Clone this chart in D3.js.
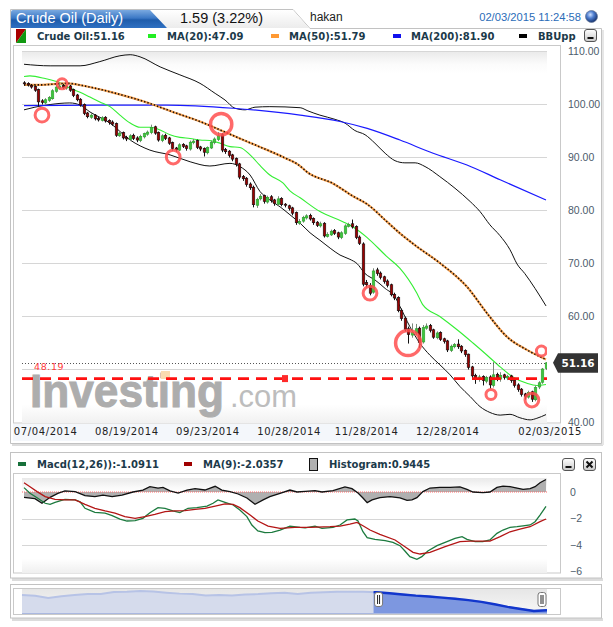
<!DOCTYPE html>
<html><head><meta charset="utf-8">
<script src="https://cdn.jsdelivr.net/npm/d3@7"></script>
<style>html,body{margin:0;padding:0;background:#fff;}svg{display:block;}</style>
</head><body><svg id="c" width="613" height="627"></svg>
<script>
// ---------------- DATA ----------------
const closes=[103.8,103.6,103.2,102.6,100.4,100.3,100.8,101.2,102.5,103.2,
103.4,103.1,103.3,102.6,101.6,100.8,99.8,98.2,97.6,97.9,
97.2,97.0,97.4,96.8,96.5,96.2,94.1,94.5,93.6,93.4,
94.0,93.5,93.2,93.9,94.4,94.7,95.6,94.5,93.2,94.0,
93.5,92.6,91.6,91.4,92.3,92.0,91.6,92.8,93.0,91.8,
91.5,90.9,91.8,92.8,93.4,94.0,91.3,91.0,90.3,89.6,
88.6,86.2,85.9,84.8,84.2,81.0,82.0,82.6,81.6,82.4,
81.8,81.2,82.1,81.0,80.9,80.3,79.4,77.6,77.8,78.6,
78.9,78.3,77.6,77.1,77.4,75.1,75.4,76.0,75.6,74.9,
75.7,77.0,77.3,76.8,74.8,73.7,66.0,65.9,64.3,68.5,
68.0,67.3,66.5,65.8,64.0,63.4,61.0,59.5,57.5,56.5,
56.9,57.6,55.0,57.8,58.1,57.3,56.0,56.8,55.6,55.2,
53.6,54.3,54.6,54.2,53.4,52.7,50.3,48.7,48.1,48.5,
47.8,48.4,47.0,48.9,48.2,48.8,48.4,48.6,47.8,46.9,
46.1,45.2,44.8,45.6,44.3,46.5,47.4,50.0,51.16];
const opens=[104.0,103.9,103.5,103.3,102.7,100.6,100.2,100.7,101.0,102.4,
103.0,103.5,103.0,103.4,102.7,101.7,100.9,99.9,98.3,97.5,
97.9,97.3,96.9,97.5,96.9,96.6,96.3,94.0,94.6,93.7,
93.3,94.1,93.6,93.1,93.8,94.3,94.6,95.7,94.6,93.1,
94.1,93.6,92.7,91.7,91.3,92.4,92.1,91.5,92.7,93.1,
91.9,91.6,90.8,91.7,92.7,93.3,94.2,91.4,91.1,90.4,
89.7,88.7,86.3,86.0,84.9,84.3,80.9,82.1,82.7,81.5,
82.5,81.9,81.1,82.2,81.1,80.8,80.4,79.5,77.5,77.9,
78.5,79.0,78.4,77.7,77.0,77.5,75.0,75.3,76.1,75.7,
74.8,75.6,76.9,77.4,76.9,74.9,73.6,66.3,65.8,64.5,
68.7,68.1,67.4,66.6,65.9,64.1,63.5,61.1,59.6,57.6,
56.4,56.8,57.7,55.1,57.7,58.2,57.4,55.9,56.9,55.7,
55.3,53.5,54.2,54.7,54.3,53.5,52.8,50.4,48.8,48.0,
48.6,47.7,48.5,46.9,49.0,48.1,48.9,48.3,48.7,47.9,
47.0,46.2,45.3,44.7,45.7,44.2,46.6,47.5,50.1];
const highs=[104.3,104.1,103.7,103.5,102.9,100.9,101.1,101.5,102.8,103.6,
103.9,103.8,103.6,103.6,102.9,101.9,101.1,100.1,98.5,98.3,
98.1,97.6,97.7,97.7,97.1,96.9,96.5,94.8,94.8,94.0,
94.3,94.4,93.9,94.2,94.6,95.0,96.1,95.9,94.8,94.3,
94.4,93.8,92.9,91.9,92.6,92.6,92.3,93.1,93.4,93.3,
92.1,91.8,92.0,93.1,93.7,94.7,94.5,91.7,91.3,90.6,
89.9,88.9,86.6,86.2,85.2,84.6,82.3,83.0,82.9,82.7,
82.8,82.1,82.6,82.4,81.3,81.0,80.6,79.7,78.3,78.9,
79.2,79.3,78.6,77.9,77.8,77.7,75.8,76.3,76.4,75.9,
76.0,77.3,77.6,78.2,77.1,75.2,73.9,66.8,66.2,69.0,
69.1,68.4,67.6,66.9,66.1,64.4,63.7,61.4,59.9,58.0,
58.6,58.5,58.0,58.3,58.6,58.5,57.6,57.1,57.1,55.9,
55.5,54.6,54.9,55.6,54.5,53.7,52.9,50.6,49.1,48.9,
48.8,48.7,48.8,51.3,49.3,49.4,49.1,48.9,48.9,48.1,
47.3,46.4,45.5,45.9,45.9,46.9,47.7,50.2,51.3];
const lows=[103.5,103.3,102.9,102.3,99.6,99.9,99.9,100.4,100.8,102.1,
102.7,102.8,102.7,102.3,101.3,100.5,99.5,97.9,97.3,97.2,
96.9,96.7,96.7,96.5,96.1,95.9,93.8,93.8,93.3,93.0,
93.0,93.2,92.8,92.8,93.5,94.0,94.3,94.2,92.9,92.8,
93.2,92.3,91.2,91.0,91.1,91.7,91.2,91.2,92.4,91.5,
91.1,90.1,90.5,91.5,92.4,93.0,90.9,90.6,89.9,89.2,
88.2,85.8,85.5,84.4,83.8,80.5,80.4,81.8,81.2,81.2,
81.4,80.8,80.8,80.7,80.5,79.9,79.0,77.2,77.2,77.6,
78.2,78.0,77.2,76.8,76.7,74.8,74.8,75.1,75.3,74.5,
74.5,75.3,76.7,76.5,74.5,73.4,65.6,65.4,63.9,64.2,
67.6,66.9,66.1,65.4,63.7,63.0,60.7,59.1,57.1,54.8,
55.9,56.4,54.0,54.8,57.4,56.9,55.7,55.6,55.3,54.8,
53.2,53.2,53.9,53.8,53.0,52.3,49.9,48.2,47.2,47.6,
46.9,47.3,46.3,46.5,47.7,47.6,48.0,47.9,47.4,46.5,
45.7,44.8,44.2,44.4,43.8,43.9,46.2,47.2,49.8];

// overlay lines: [bar index, value]
const ma20=[[0,105.2],[1.7,105.3],[6,104.8],[10.2,104],[13,103],[15.9,102.2],[18.7,101.3],[21.5,100.4],[24.4,99.5],[27.2,97.9],[30.1,96.4],[32.9,95.6],[35.7,95.6],[38.6,95.1],[41.4,94.2],[44.2,93.7],[47.1,93.5],[49.9,93.2],[52.7,93.1],[55.6,92.6],[58.4,91.95],[61.2,91.8],[64.1,90.4],[66.9,88.4],[69.7,86.6],[73.4,85.1],[75.4,83.6],[78.3,82.3],[83.9,79.7],[90.4,77.8],[93.3,76.8],[97.3,74.8],[102.9,71.2],[106.6,69],[111.4,64.3],[113.1,62.1],[117.9,59.9],[122.8,57.4],[127.3,54.9],[131.3,52.6],[135,50.4],[138.6,48.5],[142.6,47.3],[145.4,46.9],[148,47.09]];
const ma50=[[0,103.6],[4.5,103.6],[12.2,103.9],[17.9,103.3],[24.4,102.3],[30.9,101.1],[35.7,100.1],[42.2,98.5],[49.9,96.7],[55.6,95.1],[61.2,93.5],[66.9,91.9],[73.4,90],[78.3,88.3],[80.2,87.2],[87.6,85],[93.3,82.6],[97.3,81.1],[102.9,77.8],[106.6,75.6],[111.4,73.1],[117.9,70],[125.6,65.5],[131.3,60.5],[136.9,56.1],[142.6,53.6],[148,51.79]];
const ma200=[[0,99.7],[21.5,99.8],[40.5,99.8],[59.3,99.2],[78.3,97.9],[89.6,96.7],[97.3,95.4],[106.6,93.2],[116,90.7],[125.6,88.5],[135,85.7],[148,81.9]];
const bbUpper=[[0,107.5],[7.4,107.2],[15.9,107.2],[21.5,108],[27.2,109.1],[30.1,109.3],[32.9,108.9],[38.6,107],[44.2,105.5],[49.9,103.9],[54.2,102],[57,100.75],[59.8,99.2],[62.7,98.9],[65.5,99.4],[69.7,99.5],[78.3,99.3],[80.5,98.7],[83.9,97.9],[88.2,97.1],[91,96.4],[93.8,95],[96.7,94.2],[99.5,92.6],[102.4,90.7],[105.2,89.3],[108,88.9],[110.9,88.9],[113.7,88.2],[117.9,86.3],[122.2,84.1],[126.5,81.6],[129.3,79.7],[132.1,77.2],[134.9,75.2],[137.8,72.5],[139.8,69.8],[142,68],[144.9,65.2],[148,61.9]];
const bbLower=[[0,98.9],[3.1,99.4],[7.4,99.9],[13,100.2],[15.9,99.8],[18.7,98.5],[24.4,96.4],[30.1,93.2],[35.7,91.3],[41.4,90.4],[47.1,89.1],[52.7,88.3],[58.4,88.8],[61.2,88.2],[64.1,86.6],[66.9,83.5],[69.7,81.9],[72.6,80.6],[75.4,79.1],[78.3,77.5],[81.1,75.7],[83.9,74.3],[86.8,72.8],[89.6,71.5],[92.4,70.7],[94.4,69.9],[96.7,68],[99.5,66.8],[102.4,65.2],[105.2,63.6],[106.6,61.8],[109.4,58],[112.3,54.8],[115.1,52.6],[117.9,50.8],[120.8,48.9],[123.6,46.7],[126.5,44.8],[129.3,42.9],[132.1,41.8],[135,41.3],[137.8,41.45],[140.6,40.8],[143.5,40.4],[145.4,40.7],[148,41.4]];

// MACD panel: [bar index, value]
const macdLine=[[0,0.33],[1.7,-0.1],[3.7,-0.43],[6,-0.85],[7.4,-0.93],[8.8,-0.78],[11.6,-0.55],[14.5,-0.6],[15.9,-0.74],[17.3,-1.23],[20.1,-1.53],[23,-1.6],[25,-1.78],[27.2,-2.04],[29.2,-2.19],[31.5,-2.16],[33.7,-1.99],[35.7,-1.56],[38,-1.18],[40,-1.23],[42.2,-1.43],[44.2,-1.56],[46.5,-1.23],[49,-1.18],[51.9,-1.06],[53.6,-0.85],[55,-0.6],[57,-0.78],[59.3,-0.98],[61.2,-1.36],[63.2,-1.86],[64.6,-2.49],[66.3,-2.94],[68.3,-3.07],[70.3,-3.05],[72.6,-2.87],[75.4,-2.57],[78.3,-2.67],[79.7,-2.7],[82.5,-2.57],[84.5,-2.74],[87.6,-2.67],[89.6,-2.49],[91.6,-2.11],[93.8,-2.04],[94.7,-2.19],[96.1,-3.0],[97.3,-3.45],[99.5,-3.57],[102.4,-3.67],[104.6,-3.8],[106.6,-4.05],[108,-4.45],[109.4,-4.88],[111.4,-5.08],[112.8,-4.88],[114.5,-4.45],[117.1,-4.05],[119.4,-3.8],[122.2,-3.5],[124.2,-3.37],[125.6,-3.57],[127.9,-3.75],[130.1,-3.75],[132.1,-3.62],[134.1,-3.12],[135.8,-2.87],[137.8,-2.67],[139.8,-2.62],[141.5,-2.55],[143.5,-2.49],[144.9,-2.24],[146.3,-1.74],[148,-1.09]];
const signalLine=[[0,0.7],[1.7,0.4],[3.7,0.03],[6,-0.35],[8.8,-0.55],[11.6,-0.6],[14.5,-0.6],[17.3,-0.93],[20.1,-1.23],[23,-1.43],[25.8,-1.6],[28.6,-1.86],[31.5,-1.99],[34.3,-1.86],[37.1,-1.69],[40,-1.48],[42.8,-1.43],[45.6,-1.41],[48.5,-1.31],[51.3,-1.23],[54.2,-1.06],[57,-0.9],[59.3,-0.93],[61.2,-1.18],[64.1,-1.74],[66.3,-2.19],[69.2,-2.57],[72.6,-2.74],[76.8,-2.67],[81.1,-2.67],[86.8,-2.62],[89.6,-2.57],[92.4,-2.42],[94.4,-2.29],[96.1,-2.55],[98.1,-2.87],[100.9,-3.2],[105.2,-3.62],[108,-4.13],[110.3,-4.55],[112.3,-4.68],[115.1,-4.55],[119.4,-4.13],[123.6,-3.75],[126.5,-3.7],[129.3,-3.7],[132.1,-3.7],[135,-3.37],[137.8,-3.0],[140.6,-2.8],[143.5,-2.62],[146.3,-2.24],[148,-2.04]];
const histogram=[[0,-0.4],[3.1,-0.5],[5.1,-0.85],[7.4,-0.4],[9.6,-0.1],[11.6,0.08],[14.5,0.03],[17.3,-0.28],[20.1,-0.35],[22.4,-0.23],[25,-0.35],[27.8,-0.23],[30.9,0],[33.7,0.15],[35.7,0.4],[38,0.3],[39.4,0.35],[41.4,0.08],[43.7,-0.08],[46.2,0.15],[48.5,0.25],[51.3,0.15],[54.2,0.43],[56.1,0.15],[58.4,0.03],[60.7,-0.15],[63.2,-0.45],[65.5,-0.93],[67.8,-0.6],[69.7,-0.35],[72.6,-0.1],[75.4,0.15],[77.4,0],[79.7,0.05],[82.5,0.1],[84.5,0],[87.6,0.1],[91,0.38],[93,0.25],[94.7,-0.08],[96.1,-0.45],[97.3,-0.8],[98.7,-0.6],[100.9,-0.43],[103.8,-0.35],[106.6,-0.45],[108.6,-0.63],[110,-0.6],[111.4,-0.43],[113.1,0.03],[115.1,0.3],[117.9,0.35],[120.8,0.35],[123.6,0.38],[125.6,0.2],[127.3,0],[130.1,-0.05],[132.1,0],[134.1,0.35],[135.8,0.45],[137.8,0.4],[139.8,0.3],[141.5,0.2],[143.5,0.25],[144.9,0.4],[146.3,0.7],[148,0.94]];

// signal markers: [bar index, price, strength]
const markers=[[5.1,97.9,2],[10.8,103.8,1],[42.3,90.0,2],[55.9,96.2,4],[98.1,64.3,2],[108.9,54.9,5],[132.4,45.2,1],[144,44.15,2],[146.7,53.4,1]];
const alertLevel=48.19;
const alertMarkBar=74;
const lastPrice=51.16;

const tickBars=[6,29,52,75,97,120,149];
const tickLabels=['07/04/2014','08/19/2014','09/23/2014','10/28/2014','11/28/2014','12/28/2014','02/03/2015'];
const priceTicks=[40,50,60,70,80,90,100,110];
const macdTicks=[0,-2,-4,-6];

// navigator history (equal time steps, last 149 bars = visible range)
const navValues=[95.8,93.5,87,92,96,98.9,99,105,105.8,108,106.5,103,100,98.5,94,96,94.5,97,98.5,101,102.5,99,103,104.5,105.5,105.8,105.5,104,101,97.5,94,91.5,88,84.5,80.5,75,68,60,53.5,47.5,50];

const legendMain=[
 {label:'Crude Oil:51.16',color:null},
 {label:'MA(20):47.09',color:'#22ee22'},
 {label:'MA(50):51.79',color:'#ff9933'},
 {label:'MA(200):81.90',color:'#1010ee'},
 {label:'BBUpp',color:'#000'}];
const legendMacd=[
 {label:'Macd(12,26)):-1.0911',color:'#17703a'},
 {label:'MA(9):-2.0357',color:'#a00000'},
 {label:'Histogram:0.9445',color:'hist'}];

// ---------------- DRAW ----------------
const svg=d3.select('#c');
const defs=svg.append('defs');
function lg(id,stops,x2,y2){const g=defs.append('linearGradient').attr('id',id).attr('x1',0).attr('y1',0).attr('x2',x2||0).attr('y2',y2===undefined?1:y2);
 stops.forEach(s=>g.append('stop').attr('offset',s[0]).attr('stop-color',s[1]));}
lg('tabBlue',[[0,'#7aa9e0'],[0.45,'#3b78c5'],[0.55,'#1e5cab'],[1,'#2f70c2']]);
lg('tabGray',[[0,'#ffffff'],[1,'#ececec']]);
lg('plotBg',[[0,'#e9e9e9'],[0.035,'#fbfbfb'],[0.06,'#ffffff'],[0.95,'#ffffff'],[1,'#f1f1f1']]);
lg('plotBgM',[[0,'#e9e9e9'],[0.1,'#fafafa'],[0.15,'#ffffff'],[0.85,'#ffffff'],[1,'#efefef']]);
lg('navBg',[[0,'#e6e6e6'],[1,'#f8f8f8']]);
lg('btn',[[0,'#ffffff'],[1,'#c9c9c9']]);
const rg=defs.append('radialGradient').attr('id','globe').attr('cx','40%').attr('cy','35%').attr('r','65%');
rg.append('stop').attr('offset',0).attr('stop-color','#cfe0ff');
rg.append('stop').attr('offset',0.45).attr('stop-color','#4f7fd0');
rg.append('stop').attr('offset',1).attr('stop-color','#15326e');

const FONT='"Liberation Sans",Arial,sans-serif';
const DJ='"DejaVu Sans",Verdana,sans-serif';

function button(g,x,y,type){
 const b=g.append('g');
 b.append('rect').attr('x',x+0.5).attr('y',y+0.5).attr('width',12).attr('height',12).attr('rx',2.5).attr('fill','url(#btn)').attr('stroke','#555');
 if(type==='min') b.append('rect').attr('x',x+3.5).attr('y',y+8).attr('width',6).attr('height',2).attr('fill','#111');
 else { b.append('path').attr('d',`M${x+3.5},${y+3.5}L${x+9.5},${y+9.5}M${x+9.5},${y+3.5}L${x+3.5},${y+9.5}`).attr('stroke','#111').attr('stroke-width',2);}
}

// ===== MAIN PANEL =====
const main=svg.append('g');
main.append('rect').attr('x',12).attr('y',443).attr('width',591).attr('height',3).attr('fill','#dcdcdc');
main.append('rect').attr('x',602).attr('y',30).attr('width',2).attr('height',415).attr('fill','#e6e6e6');
main.append('path').attr('d','M10.5,443.5V9.5H293L310,28.5H601.5V443.5Z').attr('fill','#fff').attr('stroke','#c2c2c2');
main.append('path').attr('d','M150,10H293L309,28H167Z').attr('fill','url(#tabGray)');
main.append('path').attr('d','M11,28V12Q11,10 13,10H150L167,28Z').attr('fill','url(#tabBlue)');
main.append('text').attr('x',16).attr('y',23).attr('font-family',FONT).attr('font-size',14.5).attr('fill','#fff').text('Crude Oil (Daily)');
main.append('text').attr('x',180).attr('y',22.5).attr('font-family',FONT).attr('font-size',14.5).attr('fill','#111').text('1.59 (3.22%)');
main.append('text').attr('x',310).attr('y',21).attr('font-family',FONT).attr('font-size',12).attr('fill','#222').text('hakan');
main.append('text').attr('x',581).attr('y',21).attr('text-anchor','end').attr('font-family',FONT).attr('font-size',11.2).attr('fill','#2b6cb8').text('02/03/2015 11:24:58');
main.append('circle').attr('cx',591.5).attr('cy',16.5).attr('r',6).attr('fill','url(#globe)').attr('stroke','#6b7b99').attr('stroke-width',0.8);

// legend main
const legX=[[null,37],[148,167],[271,289],[393,411],[519,538]];
const lgM=main.append('g').attr('font-family',DJ).attr('font-weight','bold').attr('font-size',10).attr('fill','#1c3a4a');
legendMain.forEach((d,i)=>{
 const [ix,tx]=legX[i];
 if(d.color===null){
  lgM.append('path').attr('d','M16,29H26L16,43Z').attr('fill','#a80000');
  lgM.append('path').attr('d','M26,29V43H16Z').attr('fill','#119911');
 } else {
  lgM.append('rect').attr('x',ix).attr('y',34).attr('width',8).attr('height',4).attr('fill',d.color);
 }
 lgM.append('text').attr('x',tx).attr('y',40).text(d.label);
});
button(main,584,29,'min');

// inner frame
main.append('rect').attr('x',13).attr('y',424).attr('width',548).attr('height',17).attr('fill','#f4f7fb');
main.append('rect').attr('x',13.5).attr('y',45.5).attr('width',547).attr('height',377.5).attr('fill','#fff').attr('stroke','#c9c9c9');
const PL=22,PR=547,PT=51,PB=423;
main.append('rect').attr('x',PL).attr('y',PT).attr('width',PR-PL).attr('height',PB-PT).attr('fill','url(#plotBg)');

const x=d3.scaleLinear().domain([0,148]).range([24,546]);
const y=d3.scaleLinear().domain([40,110]).range([422,51]);

defs.append('clipPath').attr('id','clipMain').append('rect').attr('x',PL).attr('y',PT-2).attr('width',PR-PL).attr('height',PB-PT+2);

// grid
main.append('g').selectAll('line').data(priceTicks.filter(t=>t>40)).join('line')
 .attr('x1',PL).attr('x2',PR).attr('y1',d=>Math.round(y(d))+0.5).attr('y2',d=>Math.round(y(d))+0.5)
 .attr('stroke','#d6d6d6');

// y axis (the label hidden under the last-price tag is omitted, as in the original)
const tagHalf=10;
const visibleTicks=priceTicks.filter(t=>Math.abs(y(t)-y(lastPrice))>tagHalf);
const yAxis=d3.axisRight(y).tickValues(visibleTicks).tickFormat(d3.format('.2f')).tickSize(0).tickPadding(0);
const ya=main.append('g').attr('transform','translate(568,0)').call(yAxis);
ya.select('.domain').remove();
ya.selectAll('text').attr('font-family',FONT).attr('font-size',10.5).attr('fill','#4d5c6b');

// x axis
const xAxis=d3.axisBottom(x).tickValues(tickBars).tickFormat((d,i)=>tickLabels[i]).tickSize(0).tickPadding(0);
const xa=main.append('g').attr('transform','translate(0,428)').call(xAxis);
xa.select('.domain').remove();
xa.selectAll('text').attr('font-family',DJ).attr('font-size',10).attr('letter-spacing',0.6).attr('fill','#222');

// watermark
const wm=main.append('g');
wm.append('text').attr('x',30).attr('y',407).attr('font-family',FONT).attr('font-weight','bold').attr('font-size',47)
 .attr('textLength',194).attr('lengthAdjust','spacingAndGlyphs').attr('fill','#adadad').attr('stroke','#adadad').attr('stroke-width',1).text('Investing');
wm.append('rect').attr('x',161).attr('y',371).attr('width',9).attr('height',8).attr('fill','#fadbb0');
wm.append('text').attr('x',230).attr('y',407).attr('font-family',FONT).attr('font-size',32)
 .attr('textLength',67).attr('lengthAdjust','spacingAndGlyphs').attr('fill','#bdbdbd').text('.com');

const plot=main.append('g').attr('clip-path','url(#clipMain)');
const line=d3.line().x(d=>x(d[0])).y(d=>y(d[1])).curve(d3.curveMonotoneX);
plot.append('path').attr('d',line(bbUpper)).attr('fill','none').attr('stroke','#111').attr('stroke-width',1);
plot.append('path').attr('d',line(bbLower)).attr('fill','none').attr('stroke','#111').attr('stroke-width',1);
plot.append('path').attr('d',line(ma200)).attr('fill','none').attr('stroke','#1a1aff').attr('stroke-width',1.2);
plot.append('path').attr('d',line(ma20)).attr('fill','none').attr('stroke','#33ee33').attr('stroke-width',1.1);
plot.append('path').attr('d',line(ma50)).attr('fill','none').attr('stroke','#f5a050').attr('stroke-width',2.2);
plot.append('path').attr('d',line(ma50)).attr('fill','none').attr('stroke','#1a1008').attr('stroke-width',1.6).attr('stroke-dasharray','1.4,2');

// candles
const step=x(1)-x(0), bw=Math.max(2,step*0.72);
const bars=d3.range(closes.length).map(i=>({i,o:opens[i],h:highs[i],l:lows[i],c:closes[i]}));
const cg=plot.append('g');
cg.selectAll('line').data(bars).join('line')
 .attr('x1',d=>Math.round(x(d.i))+0.5).attr('x2',d=>Math.round(x(d.i))+0.5)
 .attr('y1',d=>y(d.h)).attr('y2',d=>y(d.l))
 .attr('stroke',d=>d.c>=d.o?'#7a8a7a':'#111').attr('stroke-width',1);
cg.selectAll('rect').data(bars).join('rect')
 .attr('x',d=>Math.round(x(d.i))+0.5-bw/2).attr('width',bw)
 .attr('y',d=>y(Math.max(d.o,d.c))).attr('height',d=>Math.max(1,Math.abs(y(d.o)-y(d.c))))
 .attr('fill',d=>d.c>=d.o?'#3fc43f':'#9b0000')
 .attr('stroke',d=>d.c>=d.o?'#2aa02a':'#111').attr('stroke-width',0.6);

// alert line
plot.append('line').attr('x1',PL).attr('x2',PR).attr('y1',y(alertLevel)).attr('y2',y(alertLevel))
 .attr('stroke','#ff1010').attr('stroke-width',2.6).attr('stroke-dasharray','11,7');
plot.append('rect').attr('x',x(alertMarkBar)-3).attr('y',y(alertLevel)-3.5).attr('width',6).attr('height',7).attr('fill','#ff2a2a');
main.append('text').attr('x',34).attr('y',y(alertLevel)-8.5).attr('font-family',DJ).attr('font-size',9.5).attr('letter-spacing',0.6).attr('fill','#ff3b3b').text(alertLevel.toFixed(2));
// last price dotted
plot.append('line').attr('x1',PL).attr('x2',PR).attr('y1',Math.round(y(lastPrice))+0.5).attr('y2',Math.round(y(lastPrice))+0.5)
 .attr('stroke','#555').attr('stroke-width',1).attr('stroke-dasharray','1,2');

// markers
const rS=d3.scaleLinear().domain([1,5]).range([5,12.5]);
plot.append('g').selectAll('circle').data(markers).join('circle')
 .attr('cx',d=>x(d[0])).attr('cy',d=>y(d[1])).attr('r',d=>rS(d[2]))
 .attr('fill','none').attr('stroke','#ff4f4f').attr('stroke-opacity',0.85).attr('stroke-width',d=>d[2]>=4?3.5:3);

// price tag
const ty=y(lastPrice);
main.append('path').attr('d',`M553,${ty}L558,${ty-9.5}H598V${ty+10}H558Z`).attr('fill','#333');
main.append('text').attr('x',578).attr('y',ty+4).attr('text-anchor','middle').attr('font-family',DJ).attr('font-weight','bold').attr('font-size',10.5).attr('fill','#fff').text(lastPrice.toFixed(2));

// ===== MACD PANEL =====
const mp=svg.append('g');
mp.append('rect').attr('x',12).attr('y',578).attr('width',591).attr('height',3).attr('fill','#dcdcdc');
mp.append('rect').attr('x',10.5).attr('y',452.5).attr('width',591).attr('height',125.5).attr('fill','#fff').attr('stroke','#c2c2c2');
const lgX=[[18,37],[184,203],[309,329]];
const lgm=mp.append('g').attr('font-family',DJ).attr('font-weight','bold').attr('font-size',10).attr('fill','#1c3a4a');
legendMacd.forEach((d,i)=>{
 const [ix,tx]=lgX[i];
 if(d.color==='hist') lgm.append('rect').attr('x',ix+0.5).attr('y',458.5).attr('width',8).attr('height',12).attr('fill','#b0b0b0').attr('stroke','#111');
 else lgm.append('rect').attr('x',ix).attr('y',462).attr('width',8).attr('height',4).attr('fill',d.color);
 lgm.append('text').attr('x',tx).attr('y',468).text(d.label);
});
button(mp,562,458,'min');button(mp,583,458,'close');
mp.append('rect').attr('x',13.5).attr('y',473.5).attr('width',547).attr('height',99.5).attr('fill','#fff').attr('stroke','#c9c9c9');
mp.append('rect').attr('x',PL).attr('y',478).attr('width',PR-PL).attr('height',95).attr('fill','url(#plotBgM)');
const my=d3.scaleLinear().domain([-6,0]).range([571.5,492]);
mp.append('g').selectAll('line').data([-2,-4]).join('line')
 .attr('x1',PL).attr('x2',PR).attr('y1',d=>Math.round(my(d))+0.5).attr('y2',d=>Math.round(my(d))+0.5).attr('stroke','#d6d6d6');
const mya=mp.append('g').attr('transform','translate(570,0)').call(d3.axisRight(my).tickValues(macdTicks).tickFormat(d3.format('d')).tickSize(0).tickPadding(0));
mya.select('.domain').remove();
mya.selectAll('text').attr('font-family',FONT).attr('font-size',10.5).attr('fill','#4d5c6b');
const harea=d3.area().x(d=>x(d[0])).y0(my(0)).y1(d=>my(d[1]));
const mline=d3.line().x(d=>x(d[0])).y(d=>my(d[1]));
mp.append('path').attr('d',harea(histogram)).attr('fill','#b0b0b0');
mp.append('line').attr('x1',PL).attr('x2',PR).attr('y1',my(0)).attr('y2',my(0)).attr('stroke','#ff6a6a').attr('stroke-dasharray','1,1');
mp.append('path').attr('d',mline(histogram)).attr('fill','none').attr('stroke','#111').attr('stroke-width',1.3);
mp.append('path').attr('d',mline(macdLine)).attr('fill','none').attr('stroke','#1c7a3e').attr('stroke-width',1.3);
mp.append('path').attr('d',mline(signalLine)).attr('fill','none').attr('stroke','#b31515').attr('stroke-width',1.3);

// ===== NAVIGATOR =====
const nv=svg.append('g');
nv.append('rect').attr('x',12).attr('y',618).attr('width',591).attr('height',3).attr('fill','#dcdcdc');
nv.append('rect').attr('x',10.5).attr('y',584.5).attr('width',591).attr('height',33.5).attr('fill','#fff').attr('stroke','#c2c2c2');
nv.append('rect').attr('x',13.5).attr('y',588.5).attr('width',547).attr('height',26).attr('fill','#fff').attr('stroke','#c9c9c9');
nv.append('rect').attr('x',PL).attr('y',589).attr('width',PR-PL).attr('height',25).attr('fill','url(#navBg)');
const totalBars=448;
const nx=d3.scaleLinear().domain([-300,148]).range([PL,PR]);
const ny=d3.scaleLinear().domain([40,120]).range([613.5,587]);
const navPts=navValues.map((v,k)=>[-300+k*totalBars/(navValues.length-1),v]);
const narea=d3.area().x(d=>nx(d[0])).y0(613.5).y1(d=>ny(d[1]));
const nline=d3.line().x(d=>nx(d[0])).y(d=>ny(d[1]));
nv.append('path').attr('d',narea(navPts)).attr('fill','#d5dbec');
nv.append('path').attr('d',nline(navPts)).attr('fill','none').attr('stroke','#b7c3e6').attr('stroke-width',2);
defs.append('clipPath').attr('id','clipSel').append('rect').attr('x',nx(0)).attr('y',585).attr('width',nx(148)-nx(0)).attr('height',30);
const sel=nv.append('g').attr('clip-path','url(#clipSel)');
sel.append('path').attr('d',narea(navPts)).attr('fill','#7d97e0');
sel.append('path').attr('d',nline(navPts)).attr('fill','none').attr('stroke','#1236cc').attr('stroke-width',2.4);
nv.append('line').attr('x1',PL).attr('x2',PR).attr('y1',613.5).attr('y2',613.5).attr('stroke','#aab8e0');
[[nx(0)+0.5],[nx(148)-9.5]].forEach(([hx])=>{
 nv.append('rect').attr('x',hx+0.5).attr('y',592.5).attr('width',8).attr('height',14).attr('rx',2.5).attr('fill','#fff').attr('stroke','#777');
 nv.append('line').attr('x1',hx+3.5).attr('x2',hx+3.5).attr('y1',595).attr('y2',604).attr('stroke','#222');
 nv.append('line').attr('x1',hx+5.5).attr('x2',hx+5.5).attr('y1',595).attr('y2',604).attr('stroke','#222');
});
</script></body></html>
